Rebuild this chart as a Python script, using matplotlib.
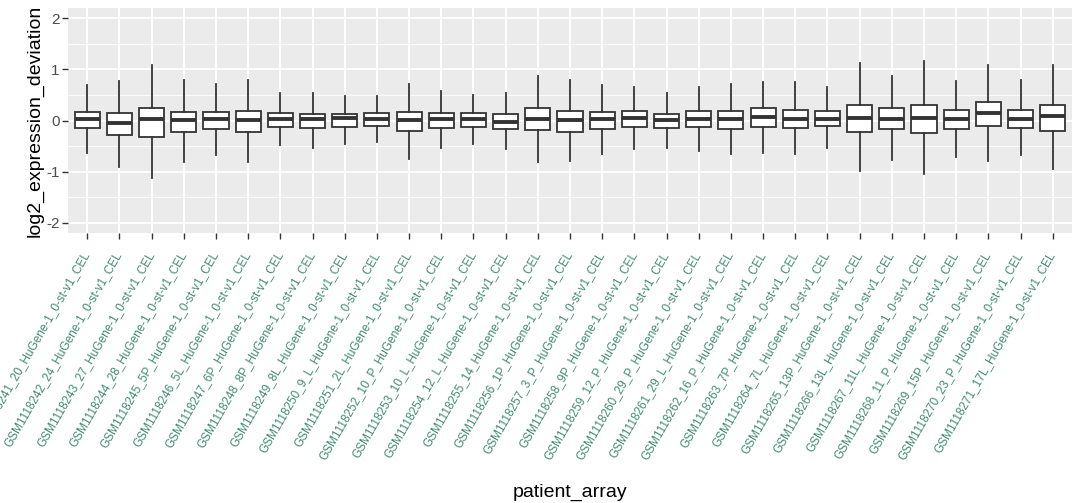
"""Boxplot of per-array log2 expression deviation (ggplot look)."""
import matplotlib
matplotlib.use('Agg')
import matplotlib.pyplot as plt
from matplotlib.ticker import MultipleLocator

plt.rcParams['font.family'] = ['Liberation Sans', 'DejaVu Sans']

sample_ids = [
    'GSM1118241_20', 'GSM1118242_24', 'GSM1118243_27', 'GSM1118244_28',
    'GSM1118245_5P', 'GSM1118246_5L', 'GSM1118247_6P', 'GSM1118248_8P',
    'GSM1118249_8L', 'GSM1118250_9_L', 'GSM1118251_2L', 'GSM1118252_10_P',
    'GSM1118253_10_L', 'GSM1118254_12_L', 'GSM1118255_14', 'GSM1118256_1P',
    'GSM1118257_3_P', 'GSM1118258_9P', 'GSM1118259_12_P', 'GSM1118260_29_P',
    'GSM1118261_29_L', 'GSM1118262_16_P', 'GSM1118263_7P', 'GSM1118264_7L',
    'GSM1118265_13P', 'GSM1118266_13L', 'GSM1118267_11L', 'GSM1118268_11_P',
    'GSM1118269_15P', 'GSM1118270_23_P', 'GSM1118271_17L',
]
label_suffix = '_HuGene-1_0-st-v1_CEL'

whisker_lo = [-0.64, -0.90, -1.12, -0.81, -0.68, -0.81, -0.48, -0.53, -0.46, -0.43,
              -0.75, -0.54, -0.46, -0.56, -0.81, -0.79, -0.65, -0.56, -0.53, -0.59,
              -0.66, -0.64, -0.66, -0.53, -0.99, -0.77, -1.04, -0.72, -0.79, -0.68,
              -0.94]
q1 = [-0.15, -0.28, -0.32, -0.22, -0.17, -0.22, -0.12, -0.14, -0.12, -0.10,
      -0.20, -0.15, -0.12, -0.16, -0.19, -0.22, -0.17, -0.12, -0.15, -0.13,
      -0.17, -0.12, -0.15, -0.10, -0.22, -0.17, -0.25, -0.17, -0.10, -0.15,
      -0.20]
median = [0.03, -0.05, 0.03, 0.01, 0.03, 0.01, 0.03, 0.02, 0.05, 0.03,
          0.01, 0.03, 0.03, -0.02, 0.03, 0.01, 0.03, 0.05, 0.01, 0.03,
          0.02, 0.06, 0.03, 0.03, 0.05, 0.03, 0.05, 0.03, 0.15, 0.03,
          0.08]
q3 = [0.16, 0.14, 0.24, 0.16, 0.16, 0.19, 0.14, 0.12, 0.12, 0.14,
      0.16, 0.14, 0.14, 0.12, 0.24, 0.19, 0.16, 0.19, 0.12, 0.19,
      0.19, 0.24, 0.21, 0.18, 0.31, 0.24, 0.31, 0.21, 0.37, 0.21,
      0.31]
whisker_hi = [0.69, 0.77, 1.09, 0.79, 0.71, 0.79, 0.53, 0.53, 0.48, 0.48,
              0.71, 0.58, 0.50, 0.53, 0.88, 0.79, 0.69, 0.66, 0.53, 0.66,
              0.71, 0.76, 0.76, 0.66, 1.12, 0.88, 1.17, 0.78, 1.09, 0.80,
              1.09]

# stats for bxp
stats = []
for i, sid in enumerate(sample_ids):
    stats.append({
        'label': sid + label_suffix,
        'whislo': whisker_lo[i], 'q1': q1[i], 'med': median[i],
        'q3': q3[i], 'whishi': whisker_hi[i], 'fliers': [],
    })

fig = plt.figure(figsize=(10.72, 5.03), dpi=100)
ax = fig.add_axes([68 / 1072, 1 - 233 / 503, 1 - 68 / 1072, 225 / 503])
ax.set_facecolor('#EBEBEB')

# grid
ax.yaxis.set_major_locator(MultipleLocator(1))
ax.yaxis.set_minor_locator(MultipleLocator(0.5))
ax.grid(which='major', color='white', linewidth=1.3)
ax.grid(which='minor', axis='y', color='white', linewidth=0.6)
ax.set_axisbelow(True)

positions = list(range(1, len(stats) + 1))
ax.bxp(stats, positions=positions, widths=0.78, showcaps=False,
       patch_artist=True,
       boxprops=dict(facecolor='white', edgecolor='#333333', linewidth=1.3),
       whiskerprops=dict(color='#333333', linewidth=1.3),
       medianprops=dict(color='#333333', linewidth=2.8))

ax.set_xlim(0.4, len(stats) + 0.6)
ax.set_ylim(-2.2, 2.2)
ax.set_yticks([-2, -1, 0, 1, 2])
ax.set_yticklabels(['-2', '-1', '0', '1', '2'])

for s in ax.spines.values():
    s.set_visible(False)

ax.tick_params(axis='y', which='major', length=4, width=1, color='#333333',
               labelsize=11, labelcolor='#4D4D4D', pad=2)
ax.tick_params(axis='y', which='minor', length=0)
ax.tick_params(axis='x', length=4, width=1, color='#333333', pad=10)
plt.setp(ax.get_xticklabels(), rotation=60, ha='right', va='center',
         rotation_mode='anchor', fontsize=8.5, color='#3E8C72')

ax.set_xlabel('patient_array', fontsize=14, labelpad=16)
ax.set_ylabel('log2_expression_deviation', fontsize=14, labelpad=2)

fig.savefig('out.png', dpi=100)
